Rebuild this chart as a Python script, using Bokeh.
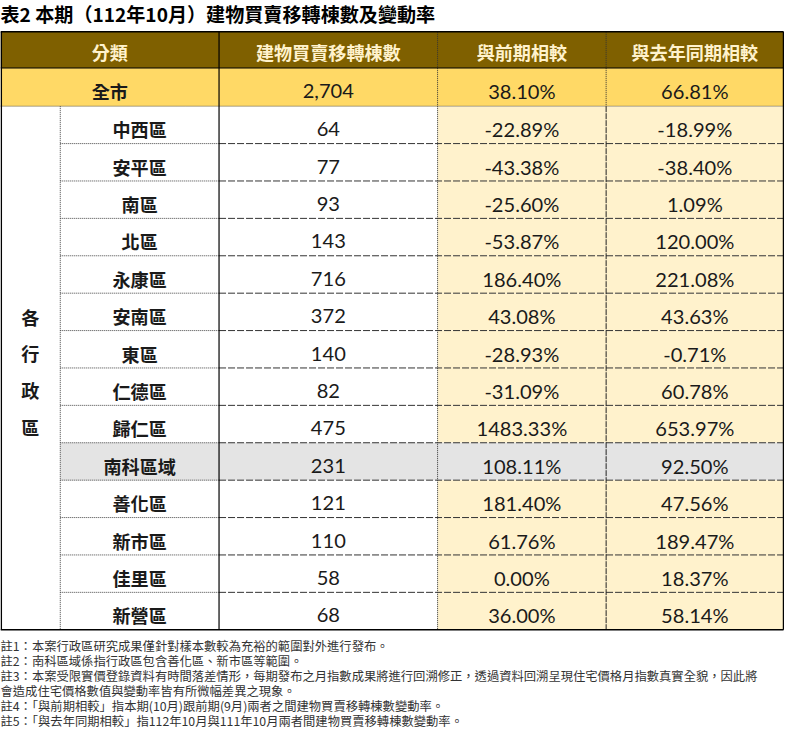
from bokeh.plotting import figure
from bokeh.models import Range1d, ColumnDataSource
from bokeh.core.properties import value
from bokeh.embed import file_html
from bokeh.resources import INLINE

# ---------------- data ----------------
title = "表2 本期（112年10月）建物買賣移轉棟數及變動率"
headers = ["分類", "建物買賣移轉棟數", "與前期相較", "與去年同期相較"]
total_label = "全市"
total_count = 2704
total_mom = 38.10
total_yoy = 66.81
group_label = "各行政區"
districts = ["中西區", "安平區", "南區", "北區", "永康區", "安南區", "東區",
             "仁德區", "歸仁區", "南科區域", "善化區", "新市區", "佳里區", "新營區"]
counts = [64, 77, 93, 143, 716, 372, 140, 82, 475, 231, 121, 110, 58, 68]
mom = [-22.89, -43.38, -25.60, -53.87, 186.40, 43.08, -28.93, -31.09,
       1483.33, 108.11, 181.40, 61.76, 0.00, 36.00]
yoy = [-18.99, -38.40, 1.09, 120.00, 221.08, 43.63, -0.71, 60.78,
       653.97, 92.50, 47.56, 189.47, 18.37, 58.14]
highlight = ["南科區域"]
notes = [
    "註1：本案行政區研究成果僅針對樣本數較為充裕的範圍對外進行發布。",
    "註2：南科區域係指行政區包含善化區、新市區等範圍。",
    "註3：本案受限實價登錄資料有時間落差情形，每期發布之月指數成果將進行回溯修正，透過資料回溯呈現住宅價格月指數真實全貌，因此將",
    "會造成住宅價格數值與變動率皆有所微幅差異之現象。",
    "註4：「與前期相較」指本期(10月)跟前期(9月)兩者之間建物買賣移轉棟數變動率。",
    "註5：「與去年同期相較」指112年10月與111年10月兩者間建物買賣移轉棟數變動率。",
]

# ---------------- layout ----------------
W, H = 784, 732
SX = W / 800.0
col_edges = [0, 61, 223, 446, 618, 799]
head_top, head_bot = 32, 69
total_bot = 108
row_h = (643 - total_bot) / len(districts)

HEAD_BG = "#7F6000"
HEAD_FG = "#FFF2CC"
TOTAL_BG = "#FFD966"
PCT_BG = "#FFF2CC"
GRAY_BG = "#E4E4E4"
CJK = "Noto Sans CJK TC"
NUM = "Lato"

p = figure(width=W, height=H, x_range=Range1d(0, 800), y_range=Range1d(748, 0),
           output_backend="svg", toolbar_location=None, min_border=0)
p.axis.visible = False
p.grid.visible = False
p.outline_line_color = None
p.background_fill_color = "white"
p.border_fill_color = "white"


def fs(px):
    return f"{px * SX:.1f}px"


def row_top(i):
    return total_bot + i * row_h


# ---- backgrounds ----
q = dict(left=[], right=[], top=[], bottom=[], color=[])


def add_q(l, r, t, b, c):
    q["left"].append(l); q["right"].append(r); q["top"].append(t)
    q["bottom"].append(b); q["color"].append(c)


add_q(col_edges[0], col_edges[-1], head_top, head_bot, HEAD_BG)
add_q(col_edges[0], col_edges[-1], head_bot, total_bot, TOTAL_BG)
for i, d in enumerate(districts):
    t, b = row_top(i), row_top(i + 1)
    if d in highlight:
        add_q(col_edges[1], col_edges[-1], t, b, GRAY_BG)
    else:
        add_q(col_edges[3], col_edges[-1], t, b, PCT_BG)
p.quad(source=ColumnDataSource(q), left="left", right="right", top="top",
       bottom="bottom", fill_color="color", line_color=None)

# ---- lines ----
def seg(x0, y0, x1, y1, color="#000000", width=1.0, dash="solid"):
    p.segment(x0=[x0], y0=[y0], x1=[x1], y1=[y1], line_color=color,
              line_width=width, line_dash=dash)


bottom = row_top(len(districts))
# horizontal row separators
seg(col_edges[0], total_bot, col_edges[-1], total_bot, "#555555", 1, "1 1")
for i in range(1, len(districts)):
    y = row_top(i)
    seg(col_edges[1], y, col_edges[2], y, "#444444", 1, "1 1")
    seg(col_edges[2], y, col_edges[-1], y, "#333333", 1, "7 2")
# verticals
seg(col_edges[1], total_bot, col_edges[1], bottom, "#444444", 1, "1 1")
seg(col_edges[2], head_top, col_edges[2], bottom, "#000000", 1.2)
seg(col_edges[3], head_top, col_edges[3], bottom, "#333333", 1, "1 1")
seg(col_edges[4], head_top, col_edges[4], total_bot, "#333333", 1, "1 1")
seg(col_edges[4], total_bot, col_edges[4], bottom, "#222222", 1, "6 1")
# header / total borders
seg(col_edges[0], head_bot, col_edges[-1], head_bot, "#000000", 1.2)
# outer frame
seg(col_edges[0], head_top, col_edges[-1], head_top, "#000000", 1.5)
seg(col_edges[0], bottom, col_edges[-1], bottom, "#000000", 1.5)
seg(col_edges[0] + 0.8, head_top, col_edges[0] + 0.8, bottom, "#000000", 1.5)
seg(col_edges[-1], head_top, col_edges[-1], bottom, "#000000", 1.5)

# ---- texts ----
def txt(x, y, s, size, font, color="#1a1a1a", bold=False, align="center"):
    p.text(x=[x], y=[y], text=[s], text_font=value(font), text_font_size=fs(size),
           text_color=color, text_font_style="bold" if bold else "normal",
           text_align=align, text_baseline="middle")


def cx(a, b):
    return (col_edges[a] + col_edges[b]) / 2


# title
txt(0, 14, title, 19.5, CJK, "#000000", True, "left")

# header
hy = (head_top + head_bot) / 2 + 2
txt(cx(0, 2), hy, headers[0], 18.5, CJK, HEAD_FG, True)
txt(cx(2, 3), hy, headers[1], 18.5, CJK, HEAD_FG, True)
txt(cx(3, 4), hy, headers[2], 18.5, CJK, HEAD_FG, True)
txt(cx(4, 5), hy, headers[3], 18.5, CJK, HEAD_FG, True)

# total row
ty = (head_bot + total_bot) / 2 + 4
txt(cx(0, 2), ty, total_label, 18.5, CJK, "#1a1a1a", True)
txt(cx(2, 3), ty, f"{total_count:,}", 20.5, NUM)
txt(cx(3, 4), ty, f"{total_mom:.2f}%", 20.5, NUM)
txt(cx(4, 5), ty, f"{total_yoy:.2f}%", 20.5, NUM)

# district rows
for i, d in enumerate(districts):
    y = (row_top(i) + row_top(i + 1)) / 2 + 4.5
    txt(cx(1, 2), y, d, 18.5, CJK, "#1a1a1a", True)
    txt(cx(2, 3), y, f"{counts[i]:,}", 20.5, NUM)
    txt(cx(3, 4), y, f"{mom[i]:.2f}%", 20.5, NUM)
    txt(cx(4, 5), y, f"{yoy[i]:.2f}%", 20.5, NUM)

# vertical group label
n = len(group_label)
mid = (total_bot + bottom) / 2 + 4
for k, ch in enumerate(group_label):
    y = mid + (k - (n - 1) / 2) * row_h * 0.985
    txt(cx(0, 1), y, ch, 18.5, CJK, "#1a1a1a", True)

# notes
note_y0, note_dy = 660, 15.3
for k, s in enumerate(notes):
    txt(0, note_y0 + k * note_dy, s, 12.6, CJK, "#333333", False, "left")

open("out.html", "w").write(file_html(p, INLINE))
